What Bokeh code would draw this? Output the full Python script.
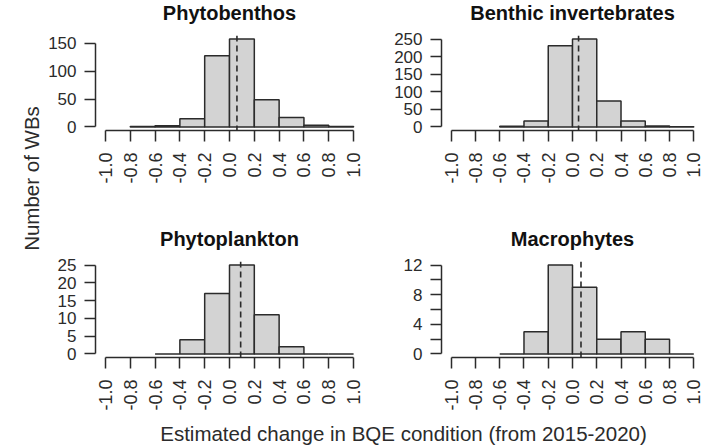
import math
from bokeh.plotting import figure
from bokeh.layouts import row, column
from bokeh.models import FixedTicker, PrintfTickFormatter, Span
from bokeh.core.properties import value
from bokeh.embed import file_html
from bokeh.resources import INLINE

# ---------------- data ----------------
BIN_W = 0.2
X_TICKS = [-1.0, -0.8, -0.6, -0.4, -0.2, 0.0, 0.2, 0.4, 0.6, 0.8, 1.0]

phytobenthos_first_break = -0.8
phytobenthos_counts = [1, 2, 15, 128, 158, 49, 17, 3, 1]
phytobenthos_mean = 0.06
phytobenthos_yticks = [0, 50, 100, 150]

benthic_first_break = -0.6
benthic_counts = [2, 17, 231, 250, 74, 17, 3, 1]
benthic_mean = 0.05
benthic_yticks = [0, 50, 100, 150, 200, 250]

phytoplankton_first_break = -0.6
phytoplankton_counts = [0, 4, 17, 25, 11, 2, 0, 0]
phytoplankton_mean = 0.09
phytoplankton_yticks = [0, 5, 10, 15, 20, 25]

macrophytes_first_break = -0.6
macrophytes_counts = [0, 3, 12, 9, 2, 3, 2, 0]
macrophytes_mean = 0.07
macrophytes_yticks = [0, 2, 4, 6, 8, 10, 12]
macrophytes_hidden_labels = [2, 6, 10]

TITLES_TOP = ["Phytobenthos", "Benthic invertebrates"]
TITLES_BOTTOM = ["Phytoplankton", "Macrophytes"]
X_TITLE = "Estimated change in BQE condition (from 2015-2020)"
Y_TITLE = "Number of WBs"

FONT = "Liberation Sans"
INK = "#2b2b2b"

# ---------------- layout (pixels) ----------------
YLAB_W = 42
LEFT_W, RIGHT_W = 338, 324
LEFT_BL, LEFT_BR = 53, 17
RIGHT_BL, RIGHT_BR = 61, 1
PANELS_W = LEFT_W + RIGHT_W
LEFT_CENTER = LEFT_BL + (LEFT_W - LEFT_BL - LEFT_BR) / 2
RIGHT_CENTER = LEFT_W + RIGHT_BL + (RIGHT_W - RIGHT_BL - RIGHT_BR) / 2


def text_strip(texts, xs, height, y_from_top, size, bold=False, width=PANELS_W):
    f = figure(width=width, height=height, x_range=(0, width), y_range=(0, height),
               output_backend="svg", toolbar_location=None,
               x_axis_location=None, y_axis_location=None, min_border=0)
    f.grid.visible = False
    f.outline_line_color = None
    f.text(x=xs, y=[height - y_from_top] * len(texts), text=texts,
           text_align="center", text_baseline="middle",
           text_font=value(FONT), text_font_size=size,
           text_font_style="bold" if bold else "normal",
           text_color="#111111" if bold else INK)
    return f


def panel(first_break, counts, mean, yticks, width, height,
          bl, br, bt, bb, hidden=None):
    n = len(counts)
    lefts = [round(first_break + i * BIN_W, 2) for i in range(n)]
    rights = [round(l + BIN_W, 2) for l in lefts]
    ymax = max(counts)
    p = figure(width=width, height=height,
               x_range=(-1.08, 1.08), y_range=(-0.04 * ymax, 1.04 * ymax),
               output_backend="svg", toolbar_location=None,
               min_border_left=bl, min_border_right=br,
               min_border_top=bt, min_border_bottom=bb)
    p.quad(left=lefts, right=rights, bottom=0, top=counts,
           fill_color="#d3d3d3", line_color=INK, line_width=1.5)
    p.add_layout(Span(location=mean, dimension="height", line_dash="6 4",
                      line_color=INK, line_width=1.6))
    p.grid.visible = False
    p.outline_line_color = None

    xa = p.xaxis[0]
    xa.ticker = FixedTicker(ticks=X_TICKS, minor_ticks=[])
    xa.formatter = PrintfTickFormatter(format="%.1f")
    xa.bounds = (X_TICKS[0], X_TICKS[-1])
    xa.major_label_orientation = math.pi / 2
    ya = p.yaxis[0]
    ya.ticker = FixedTicker(ticks=yticks, minor_ticks=[])
    ya.bounds = (yticks[0], yticks[-1])
    ya.major_label_orientation = "horizontal"
    if hidden:
        ya.major_label_overrides = {h: "" for h in hidden}
    for ax in (xa, ya):
        ax.axis_line_color = INK
        ax.axis_line_width = 1.5
        ax.major_tick_line_color = INK
        ax.major_tick_line_width = 1.5
        ax.major_tick_out = 11
        ax.major_tick_in = 0
        ax.minor_tick_line_color = None
        ax.major_label_text_font = FONT
        ax.major_label_text_color = INK
    xa.major_label_text_font_size = "18px"
    ya.major_label_text_font_size = "17px"
    xa.major_label_standoff = 11
    ya.major_label_standoff = 8
    return p


# top titles strip: 0..30, top panels 30..225, bottom titles 225..252,
# bottom panels 252..417, x title 417..447
top_titles = text_strip(TITLES_TOP, [LEFT_CENTER, RIGHT_CENTER], 30, 12, "20px", bold=True)
p1 = panel(phytobenthos_first_break, phytobenthos_counts, phytobenthos_mean,
           phytobenthos_yticks, LEFT_W, 195, LEFT_BL, LEFT_BR, 5, 95)
p2 = panel(benthic_first_break, benthic_counts, benthic_mean,
           benthic_yticks, RIGHT_W, 195, RIGHT_BL, RIGHT_BR, 5, 95)
bottom_titles = text_strip(TITLES_BOTTOM, [LEFT_CENTER, RIGHT_CENTER], 27, 13, "20px", bold=True)
p3 = panel(phytoplankton_first_break, phytoplankton_counts, phytoplankton_mean,
           phytoplankton_yticks, LEFT_W, 165, LEFT_BL, LEFT_BR, 9, 60)
p4 = panel(macrophytes_first_break, macrophytes_counts, macrophytes_mean,
           macrophytes_yticks, RIGHT_W, 165, RIGHT_BL, RIGHT_BR, 9, 60,
           hidden=macrophytes_hidden_labels)
xlab = text_strip([X_TITLE], [361], 30, 16, "20.5px")

ylab = figure(width=YLAB_W, height=447, x_range=(0, YLAB_W), y_range=(0, 447),
              output_backend="svg", toolbar_location=None,
              x_axis_location=None, y_axis_location=None, min_border=0)
ylab.grid.visible = False
ylab.outline_line_color = None
ylab.text(x=[31], y=[447 - 178], text=[Y_TITLE], angle=math.pi / 2,
          text_align="center", text_baseline="middle",
          text_font=value(FONT), text_font_size="20.5px", text_color=INK)

layout = row(ylab, column(top_titles, row(p1, p2), bottom_titles,
                          row(p3, p4), xlab))

open("out.html", "w").write(file_html(layout, INLINE))
